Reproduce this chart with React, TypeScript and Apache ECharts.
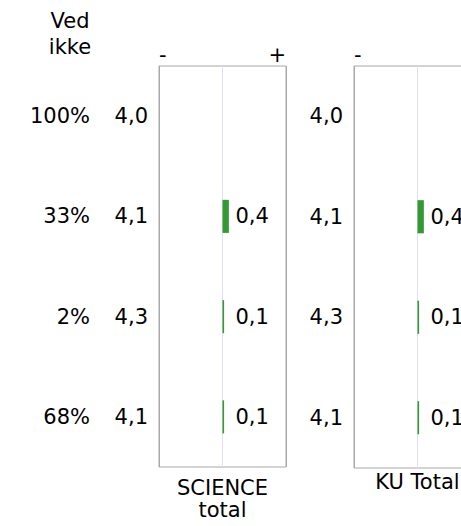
import React, { useEffect, useRef } from "react";
import * as echarts from "echarts";

const rows = ["r1", "r2", "r3", "r4"];
const pctLabels = ["100%", "33%", "2%", "68%"];
const scienceMeans = [4.0, 4.1, 4.3, 4.1];
const scienceDiff: (number | string)[] = ["-", 0.4, 0.1, 0.1];
const kuMeans = [4.0, 4.1, 4.3, 4.1];
const kuDiff: (number | string)[] = ["-", 0.4, 0.1, 0.1];
const panelNames = ["SCIENCE\ntotal", "KU Total"];
const scaleEnds = [["-", "+"], ["-", ""]];
const headerText = "Ved\nikke";

const FONT = "DejaVu Sans";
const FS = 21;
const GREEN = "#339933";
const BORDER = "#a8a8a8";
const MID = "#e0e0f2";

const fmt = (v: number) => v.toFixed(1).replace(".", ",");

export default function App() {
  const ref = useRef<HTMLDivElement>(null);
  useEffect(() => {
    document.body.style.margin = "0";
    const chart = echarts.init(ref.current!, null, { renderer: "svg" });
    const textBase = { fontFamily: FONT, fontSize: FS, color: "#000" };
    const grids = [
      { left: 159, top: 66, width: 127, height: 402 },
      { left: 354, top: 66, width: 127, height: 402 },
    ];
    const xBottom = (gi: number, name: string, gap: number) => ({
      type: "value",
      gridIndex: gi,
      min: -4,
      max: 4,
      interval: 4,
      position: "bottom",
      axisLine: { show: false },
      axisTick: { show: false },
      axisLabel: { show: false },
      splitLine: { show: true, lineStyle: { color: [BORDER, MID, BORDER], width: 1 } },
      name,
      nameLocation: "middle",
      nameGap: gap,
      nameTextStyle: { ...textBase, lineHeight: 22 },
    });
    const xTop = (gi: number) => ({
      type: "value",
      gridIndex: gi,
      min: -4,
      max: 4,
      interval: 4,
      position: "top",
      axisLine: { show: false },
      axisTick: { show: false },
      splitLine: { show: false },
      axisLabel: {
        ...textBase,
        margin: 1,
        showMinLabel: true,
        showMaxLabel: true,
        alignMinLabel: "left",
        alignMaxLabel: "right",
        formatter: (v: number) => (v < 0 ? scaleEnds[gi][0] : v > 0 ? scaleEnds[gi][1] : ""),
      },
    });
    const yCat = (gi: number, labels: string[], margin: number) => ({
      type: "category",
      gridIndex: gi,
      data: rows,
      inverse: true,
      position: "left",
      axisLine: { show: false },
      axisTick: { show: false },
      splitLine: { show: false },
      axisLabel: {
        ...textBase,
        margin,
        formatter: (_v: string, i: number) => labels[i],
      },
    });
    const barSeries = (xi: number, yi: number, data: (number | string)[]) => ({
      type: "bar",
      xAxisIndex: xi,
      yAxisIndex: yi,
      data,
      barWidth: "33%",
      itemStyle: { color: GREEN },
      label: {
        show: true,
        position: "insideLeft",
        distance: 13,
        ...textBase,
        formatter: (p: any) => fmt(p.value),
      },
    });
    chart.setOption({
      animation: false,
      grid: grids.map((g) => ({ ...g, show: true, borderColor: BORDER, borderWidth: 1, backgroundColor: "transparent" })),
      xAxis: [xBottom(0, panelNames[0], 10), xBottom(1, panelNames[1], 3), xTop(0), xTop(1)],
      yAxis: [
        yCat(0, scienceMeans.map(fmt), 11),
        yCat(0, pctLabels, 69),
        yCat(1, kuMeans.map(fmt), 11),
      ],
      series: [barSeries(0, 0, scienceDiff), barSeries(1, 2, kuDiff)],
      graphic: [
        {
          type: "text",
          x: 70,
          y: 34,
          style: {
            text: headerText,
            font: `${FS}px '${FONT}'`,
            fill: "#000",
            align: "center",
            verticalAlign: "middle",
            lineHeight: 26,
          },
        },
      ],
    });
    return () => chart.dispose();
  }, []);
  return (
    <div style={{ width: 461, height: 526, overflow: "hidden", position: "relative" }}>
      <div ref={ref} style={{ width: 500, height: 526 }} />
    </div>
  );
}
